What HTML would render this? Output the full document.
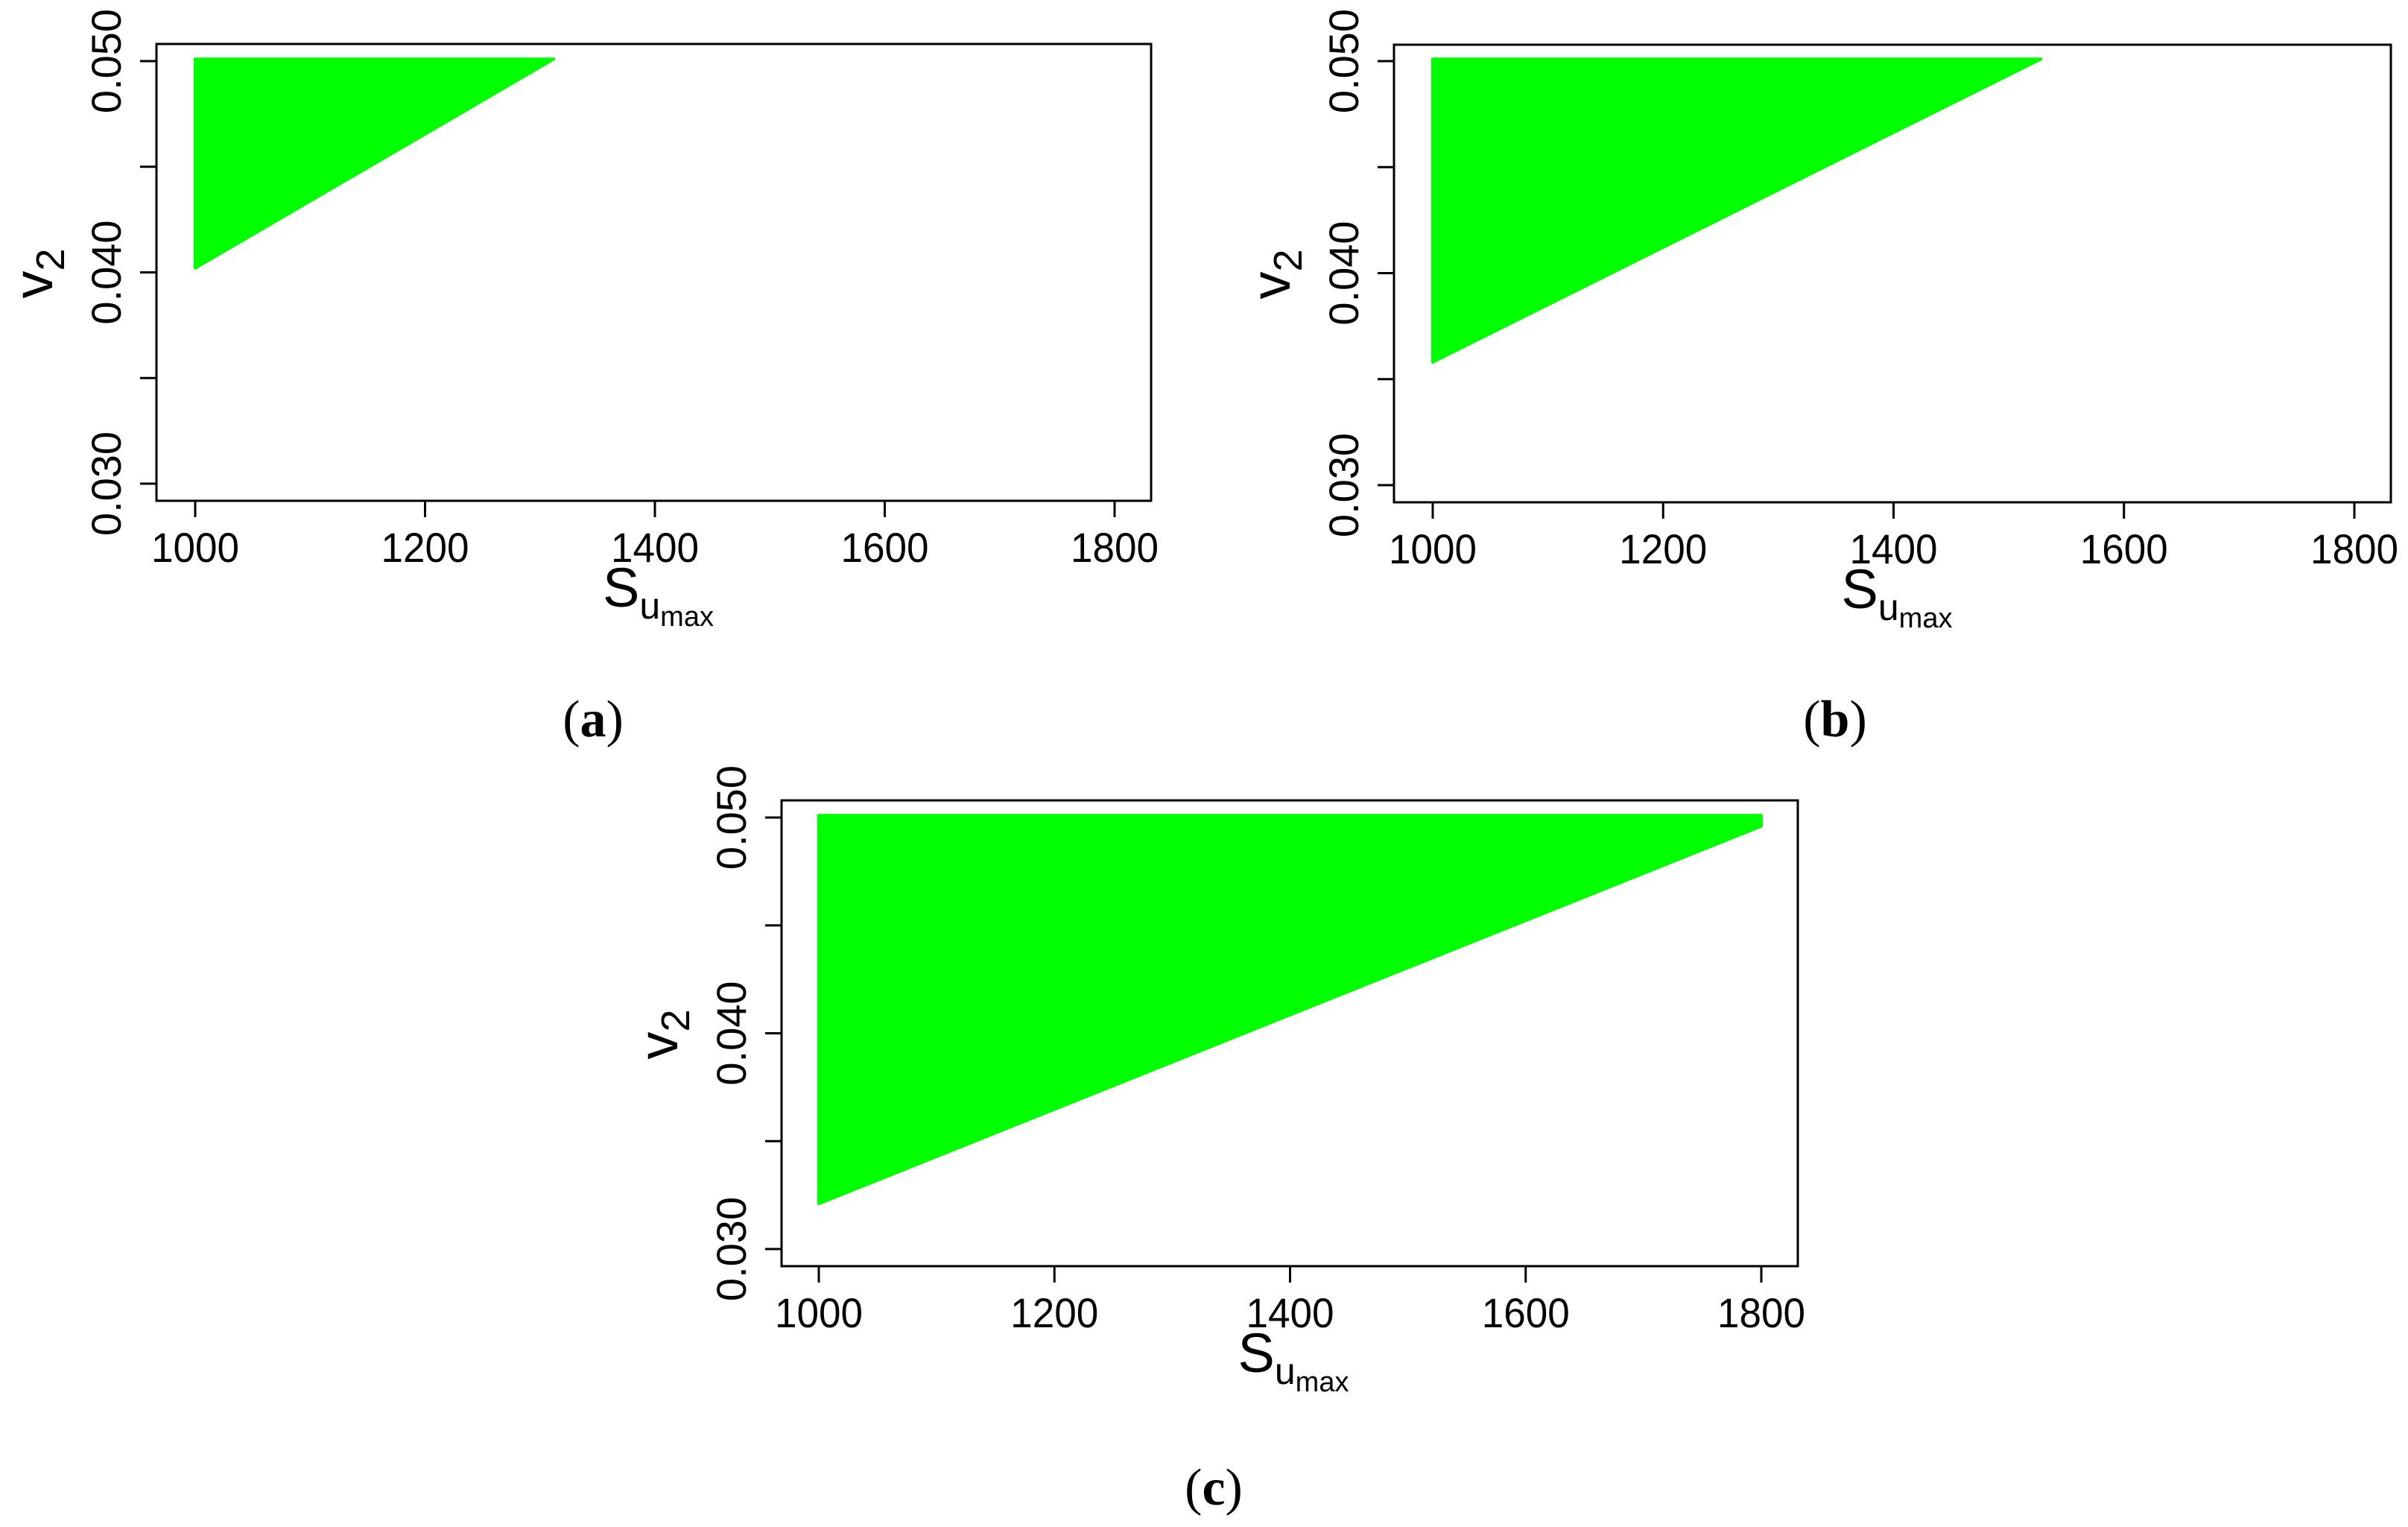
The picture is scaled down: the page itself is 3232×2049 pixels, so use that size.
<!DOCTYPE html>
<html><head><meta charset="utf-8"><style>
html,body{margin:0;padding:0;background:#fff;}
svg{display:block;font-family:"Liberation Sans",Arial,sans-serif;}
</style></head><body>
<svg id="fig" width="3232" height="2049" viewBox="0 0 3232 2049" xmlns="http://www.w3.org/2000/svg"></svg>
<script>
// data
const panelIds = ['a','b','c'];
const xTicks = [1000,1200,1400,1600,1800];
const yTicks = [0.030,0.035,0.040,0.045,0.050];
const yTickLabels = ['0.030','','0.040','','0.050'];
const regionXStart = [1000,1000,1000];
const regionXEnd = [1312,1528,1800];
const regionYTop = [0.0501,0.0501,0.0501];
const regionYBottom = [0.0402,0.0358,0.0321];
const regionYRightEnd = [0.0501,0.0501,0.0496];

// layout
const layout = [
 {box:[210,59,1545,672], x0:262, x1:1496, y50:82, y30:649, lab:[796,966]},
 {box:[1871,60,3209,674], x0:1923, x1:3160, y50:82, y30:651, lab:[2463,966]},
 {box:[1049,1074,2413,1699], x0:1099, x1:2364, y50:1097, y30:1676, lab:[1629,1997]}
];
const NS='http://www.w3.org/2000/svg';
const svg=document.getElementById('fig');
function mk(tag,attrs,parent){const e=document.createElementNS(NS,tag);for(const k in attrs)e.setAttribute(k,attrs[k]);(parent||svg).appendChild(e);return e;}

panelIds.forEach((id,i)=>{
  const L=layout[i];
  const sx=v=>L.x0+(v-1000)*(L.x1-L.x0)/800;
  const sy=v=>L.y30-(v-0.030)*(L.y30-L.y50)/0.020;
  const g=mk('g',{});
  
  
  const pts=[[regionXStart[i],regionYTop[i]],[regionXEnd[i],regionYTop[i]],[regionXEnd[i],regionYRightEnd[i]],[regionXStart[i],regionYBottom[i]]]
    .map(p=>sx(p[0]).toFixed(1)+','+sy(p[1]).toFixed(1)).join(' ');
  const poly=mk('polygon',{points:pts,fill:'#00ff00',stroke:'#00ff00','stroke-width':4,'stroke-linejoin':'round'},g);
  
  
  const b=L.box;
  const box=mk('rect',{x:b[0],y:b[1],width:b[2]-b[0],height:b[3]-b[1],fill:'none',stroke:'#000','stroke-width':3},g);
  
  
  xTicks.forEach(t=>{
    const x=sx(t);
    mk('line',{x1:x,y1:b[3],x2:x,y2:b[3]+22,stroke:'#000','stroke-width':3},g);
    const tx=mk('text',{x:x,y:b[3]+82,'font-size':56,'text-anchor':'middle',fill:'#000',textLength:118,lengthAdjust:'spacingAndGlyphs'},g);
    tx.textContent=t;
    
    
  });
  yTicks.forEach((t,k)=>{
    const y=sy(t);
    mk('line',{x1:b[0],y1:y,x2:b[0]-22,y2:y,stroke:'#000','stroke-width':3},g);
    if(yTickLabels[k]){
      const tx=mk('text',{x:0,y:0,'font-size':56,'text-anchor':'middle',fill:'#000',transform:`translate(${b[0]-48},${y}) rotate(-90)`},g);
      tx.textContent=yTickLabels[k];
      
      
    }
  });
  const xc=(L.x0+L.x1)/2;
  const xt=mk('text',{x:xc-70,y:b[3]+142,'font-size':74,fill:'#000'},g);
  xt.innerHTML='S<tspan font-size="50" dy="16">u</tspan><tspan font-size="38" dy="10">max</tspan>';
  
  
  const ymid=(L.y50+L.y30)/2;
  const yt=mk('text',{x:0,y:0,'font-size':74,fill:'#000',transform:`translate(${b[0]-140},${ymid+35}) rotate(-90)`},g);
  yt.innerHTML='v<tspan font-size="54" dy="16">2</tspan>';
  
  
  const cap=mk('text',{x:L.lab[0],y:L.lab[1]+22,'font-size':70,'text-anchor':'middle',fill:'#000','font-family':'"Liberation Serif",serif'},g);
  cap.innerHTML='(<tspan font-weight="bold">'+id+'</tspan>)';
  
  
});
</script>
</body></html>
